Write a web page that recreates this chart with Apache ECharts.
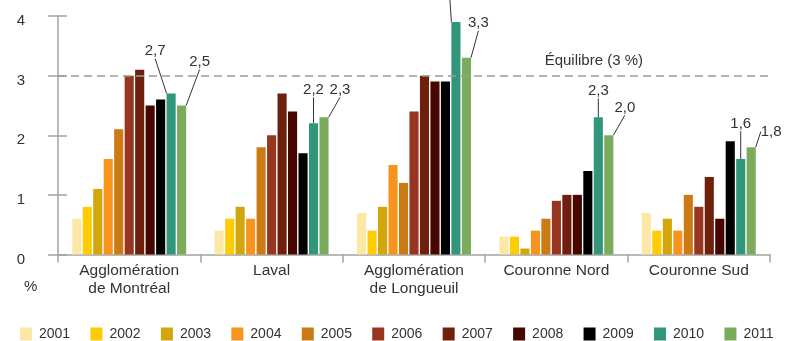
<!DOCTYPE html>
<html>
<head>
<meta charset="utf-8">
<script src="https://cdn.jsdelivr.net/npm/echarts@6/dist/echarts.min.js"></script>
<style>html,body{margin:0;padding:0;background:#fff}#c{width:792px;height:341px}</style>
</head>
<body>
<div id="c"></div>
<script>
var categories = ['Agglomération\nde Montréal', 'Laval', 'Agglomération\nde Longueuil', 'Couronne Nord', 'Couronne Sud'];
var years = ['2001','2002','2003','2004','2005','2006','2007','2008','2009','2010','2011'];
var v2001 = [0.6, 0.4, 0.7, 0.3, 0.7];
var v2002 = [0.8, 0.6, 0.4, 0.3, 0.4];
var v2003 = [1.1, 0.8, 0.8, 0.1, 0.6];
var v2004 = [1.6, 0.6, 1.5, 0.4, 0.4];
var v2005 = [2.1, 1.8, 1.2, 0.6, 1.0];
var v2006 = [3.0, 2.0, 2.4, 0.9, 0.8];
var v2007 = [3.1, 2.7, 3.0, 1.0, 1.3];
var v2008 = [2.5, 2.4, 2.9, 1.0, 0.6];
var v2009 = [2.6, 1.7, 2.9, 1.4, 1.9];
var v2010 = [2.7, 2.2, 3.9, 2.3, 1.6];
var v2011 = [2.5, 2.3, 3.3, 2.0, 1.8];
var yTicks = [0, 1, 2, 3, 4];
var equilibre = 3;

var values = [v2001, v2002, v2003, v2004, v2005, v2006, v2007, v2008, v2009, v2010, v2011];
var colors = ['#FDE7A6', '#FFCB05', '#D3A70B', '#F7941D', '#CC7A14', '#983521', '#6E200C', '#470600', '#000000', '#32967A', '#7AAC5C'];
var shift2010 = [[-16, -30], [0, -21], [-6, -17], [0, -14], [0, -23]];
var shift2011 = [[18, -31], [16, -15], [12, -22], [16, -15], [20, -3]];

var FONT = 'Liberation Sans';
var TXT = '#333333';
var AX = '#a3a3a3';

function fmt(p) { return p.value.toFixed(1).replace('.', ','); }

var series = years.map(function (y, i) {
  var s = {
    name: y,
    type: 'bar',
    data: values[i],
    itemStyle: { color: colors[i] },
    barGap: '15%',
    barCategoryGap: '20%',
    emphasis: { disabled: true }
  };
  var sh = null;
  if (y === '2010') sh = shift2010;
  if (y === '2011') sh = shift2011;
  if (sh) {
    s.label = { show: true, position: 'top', distance: 5, formatter: fmt, color: TXT, fontFamily: FONT, fontSize: 15 };
    s.labelLine = { show: true, lineStyle: { color: '#333', width: 1 } };
    s.labelLayout = (function (arr) {
      return function (params) { var d = arr[params.dataIndex]; return { dx: d[0], dy: d[1] }; };
    })(sh);
  }
  if (i === 0) {
    s.markLine = {
      silent: true,
      symbol: 'none',
      data: [{ yAxis: equilibre }],
      lineStyle: { color: '#9a9a9a', type: [8, 5], width: 1.5 },
      label: { show: true, position: 'insideEndTop', formatter: 'Équilibre (3 %)', color: TXT, fontFamily: FONT, fontSize: 15, offset: [-122, -2] }
    };
  }
  return s;
});

var chart = echarts.init(document.getElementById('c'), null, { renderer: 'canvas' });
chart.setOption({
  animation: false,
  grid: { left: 58, right: 22, top: 16, bottom: 86.5, containLabel: false },
  legend: {
    data: years,
    left: 20,
    top: 327,
    width: 772,
    padding: 0,
    itemWidth: 12,
    itemHeight: 13,
    itemGap: 20.3,
    icon: 'rect',
    textStyle: { color: TXT, fontFamily: FONT, fontSize: 14, padding: [0, 0, 0, 2] },
    selectedMode: false
  },
  xAxis: {
    type: 'category',
    data: categories,
    axisLine: { lineStyle: { color: AX, width: 1.5 } },
    axisTick: { show: true, length: 8, lineStyle: { color: AX, width: 1.5 } },
    axisLabel: { color: TXT, fontFamily: FONT, fontSize: 15.5, lineHeight: 18, margin: 7, interval: 0 }
  },
  yAxis: [{
    type: 'value',
    min: yTicks[0],
    max: yTicks[yTicks.length - 1],
    interval: 1,
    splitLine: { show: false },
    axisLine: { show: true, lineStyle: { color: AX, width: 1.5 } },
    axisTick: { show: true, length: 10, lineStyle: { color: AX, width: 1.5 } },
    axisLabel: { color: TXT, fontFamily: FONT, fontSize: 15, margin: 33, verticalAlign: 'top', lineHeight: 10 }
  }, {
    type: 'value',
    position: 'left',
    min: yTicks[0],
    max: yTicks[yTicks.length - 1],
    interval: 1,
    splitLine: { show: false },
    axisLine: { show: false },
    axisTick: { show: true, inside: true, length: 9, lineStyle: { color: AX, width: 1.5 } },
    axisLabel: { show: false }
  }],
  graphic: [{
    type: 'text',
    left: 24,
    top: 279,
    style: { text: '%', fill: TXT, font: '15px "' + FONT + '"' }
  }],
  series: series
});
</script>
</body>
</html>
